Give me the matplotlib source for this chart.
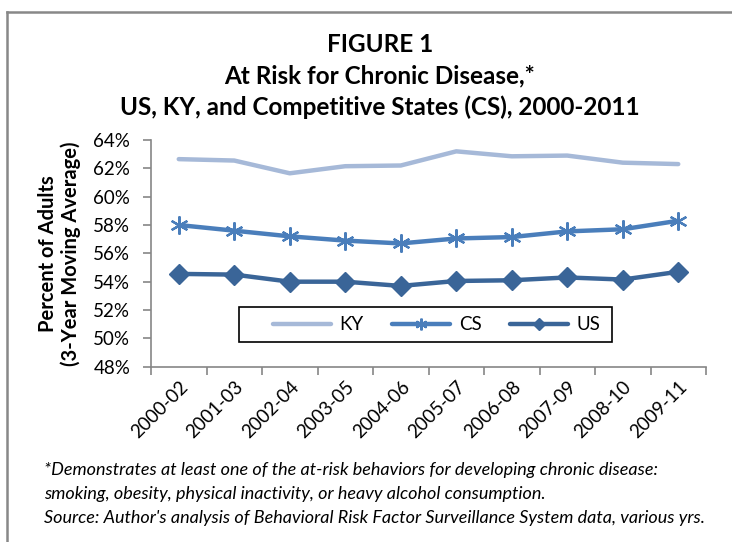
import matplotlib
matplotlib.use("Agg")
import matplotlib.pyplot as plt
from matplotlib.lines import Line2D
from matplotlib.patches import Rectangle

categories = ["2000-02", "2001-03", "2002-04", "2003-05", "2004-06",
              "2005-07", "2006-08", "2007-09", "2008-10", "2009-11"]
ky = [62.65, 62.55, 61.65, 62.15, 62.2, 63.2, 62.85, 62.9, 62.4, 62.3]
cs = [58.0, 57.6, 57.2, 56.9, 56.7, 57.05, 57.15, 57.55, 57.7, 58.3]
us = [54.55, 54.5, 54.0, 54.0, 53.7, 54.05, 54.1, 54.3, 54.15, 54.7]
yticks = [48, 50, 52, 54, 56, 58, 60, 62, 64]

plt.rcParams['font.family'] = ['Lato', 'DejaVu Sans']

fig = plt.figure(figsize=(7.32, 5.42), dpi=100)
ax = fig.add_axes([151/732, 1 - 366.7/542, (706-151)/732, (366.7-140)/542])

x = list(range(len(categories)))
ax.plot(x, ky, color="#A6B9D8", lw=3.2, solid_capstyle='round', label="KY")
ax.plot(x, cs, color="#4A7EBB", lw=3.2, marker=(6, 2, 0), markersize=13,
        markeredgewidth=1.6, markeredgecolor="#4A7EBB", solid_capstyle='round', label="CS")
ax.plot(x, us, color="#3A6598", lw=3.2, marker="D", markersize=10,
        markeredgecolor="#3A6598", markerfacecolor="#3A6598", solid_capstyle='round', label="US")

ax.set_xlim(-0.5, len(categories) - 0.5)
ax.set_ylim(48, 64)
ax.set_yticks(yticks)
ax.set_yticklabels([f"{v}%" for v in yticks], fontsize=13.5)
ax.set_xticks([i - 0.5 for i in range(len(categories) + 1)])
ax.set_xticklabels([])
ax.set_xticks(x, minor=True)
ax.set_xticklabels(categories, minor=True, rotation=45, ha='right',
                   rotation_mode='anchor', fontsize=13.5)
ax.tick_params(axis='x', which='minor', length=0, pad=8)
ax.tick_params(axis='x', which='major', length=6, color="#868686", width=1.2)
ax.tick_params(axis='y', length=6, color="#868686", width=1.2, pad=9)
for s in ["top", "right"]:
    ax.spines[s].set_visible(False)
for s in ["left", "bottom"]:
    ax.spines[s].set_color("#868686")
    ax.spines[s].set_linewidth(1.2)

ax.set_ylabel("Percent of Adults\n(3-Year Moving Average)", fontsize=14.5,
              fontweight='bold', labelpad=9, linespacing=1.15)

# legend frame
ax.add_patch(Rectangle((0.158, 0.108), 0.673, 0.155, transform=ax.transAxes,
                       fill=True, facecolor='white', edgecolor='black', lw=1.2,
                       zorder=4, clip_on=False))
leg = ax.legend(loc='center', bbox_to_anchor=(0.158 + 0.673/2 + 0.02, 0.108 + 0.155/2),
                ncol=3, frameon=False, fontsize=13.5, handlelength=3.1,
                handletextpad=0.45, columnspacing=1.5, borderaxespad=0, borderpad=0,
                markerscale=0.65)
leg.set_zorder(5)

for i, t in enumerate(["FIGURE 1", "At Risk for Chronic Disease,*",
                       "US, KY, and Competitive States (CS), 2000-2011"]):
    fig.text(380/732, 1 - (44 + 31.5*i)/542, t, ha='center', va='center',
             fontsize=17.5, fontweight='bold')

notes = ["*Demonstrates at least one of the at-risk behaviors for developing chronic disease:",
         "smoking, obesity, physical inactivity, or heavy alcohol consumption.",
         "Source: Author's analysis of Behavioral Risk Factor Surveillance System data, various yrs."]
for i, t in enumerate(notes):
    fig.text(44/732, 1 - (470 + 24*i)/542, t, ha='left', va='center',
             fontsize=13, style='italic')

fig.add_artist(Line2D([7.5/732, 7.5/732], [0, 1 - 11.5/542], color="#888888", lw=1.8,
                      transform=fig.transFigure))
fig.add_artist(Line2D([7.5/732, 1], [1 - 11.5/542, 1 - 11.5/542], color="#888888", lw=1.8,
                      transform=fig.transFigure))

fig.savefig("out.png", dpi=100)
